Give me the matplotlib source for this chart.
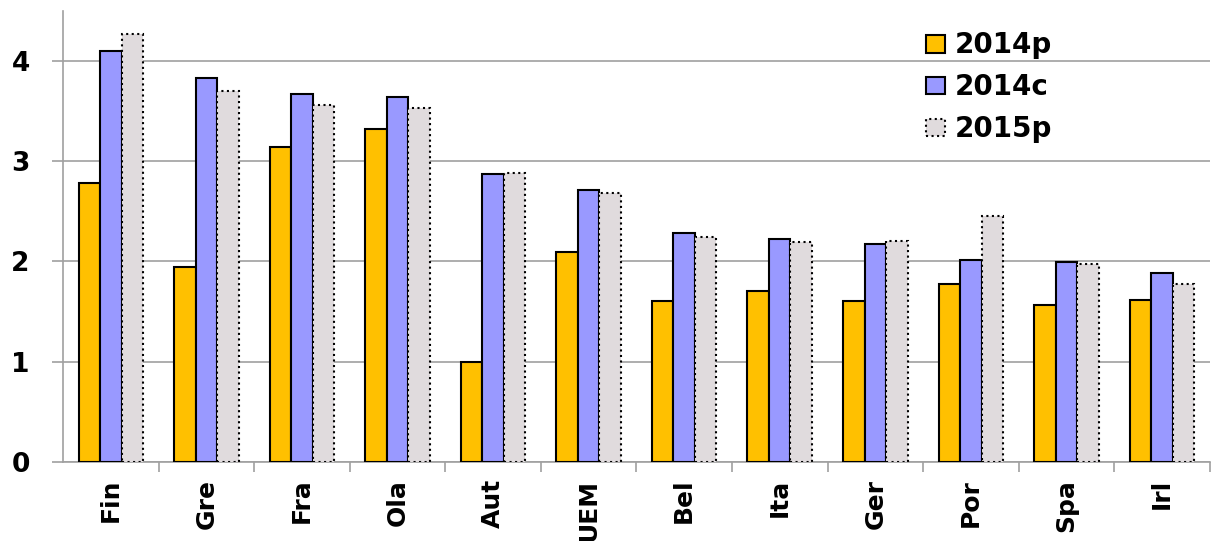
import numpy as np
import matplotlib.pyplot as plt

plt.rcParams['font.family'] = ['DejaVu Sans']

countries = ["Fin", "Gre", "Fra", "Ola", "Aut", "UEM", "Bel", "Ita", "Ger", "Por", "Spa", "Irl"]
v2014p = [2.78, 1.94, 3.14, 3.32, 1.00, 2.09, 1.61, 1.71, 1.61, 1.78, 1.57, 1.62]
v2014c = [4.10, 3.83, 3.67, 3.64, 2.87, 2.71, 2.28, 2.22, 2.17, 2.01, 1.99, 1.89]
v2015p = [4.27, 3.70, 3.56, 3.53, 2.88, 2.68, 2.24, 2.19, 2.20, 2.45, 1.97, 1.78]

fig = plt.figure(figsize=(12.11, 5.41), dpi=100)
ax = fig.add_axes([0.052, 0.146, 0.947, 0.834])

x = np.arange(len(countries))
w = 0.225
ax.bar(x - w, v2014p, w, color="#FFC000", edgecolor="black", linewidth=1.5, label="2014p", zorder=3)
ax.bar(x, v2014c, w, color="#9999FF", edgecolor="black", linewidth=1.5, label="2014c", zorder=3)
ax.bar(x + w, v2015p, w, color="#E0DBDD", edgecolor="black", linewidth=1.5, linestyle=":", label="2015p", zorder=3)

ax.set_xlim(-0.5, len(countries) - 0.5)
ax.set_ylim(0, 4.5)
ax.set_yticks([0, 1, 2, 3, 4])
ax.yaxis.grid(True, color="#A0A0A0", linewidth=1.2, zorder=0)
ax.tick_params(axis="y", length=8, color="#A0A0A0", width=1.2, labelsize=19, pad=16)
for t in ax.get_yticklabels():
    t.set_fontweight("bold")

ax.set_xticks(x)
ax.set_xticklabels(countries, rotation=90, fontsize=18, fontweight="bold")
ax.set_xticks(np.arange(len(countries)) + 0.5, minor=True)
ax.tick_params(axis="x", which="major", length=0, pad=12)
ax.tick_params(axis="x", which="minor", length=7, color="#A0A0A0", width=1.2)

for s in ["top", "right"]:
    ax.spines[s].set_visible(False)
for s in ["left", "bottom"]:
    ax.spines[s].set_color("#A0A0A0")
    ax.spines[s].set_linewidth(1.2)

leg = ax.legend(loc="upper left", bbox_to_anchor=(0.74, 0.985), frameon=False,
                prop={"size": 20, "weight": "bold"}, handlelength=0.7, handleheight=0.6,
                handletextpad=0.35, labelspacing=0.5, borderpad=0)

fig.savefig("out.png", dpi=100)
